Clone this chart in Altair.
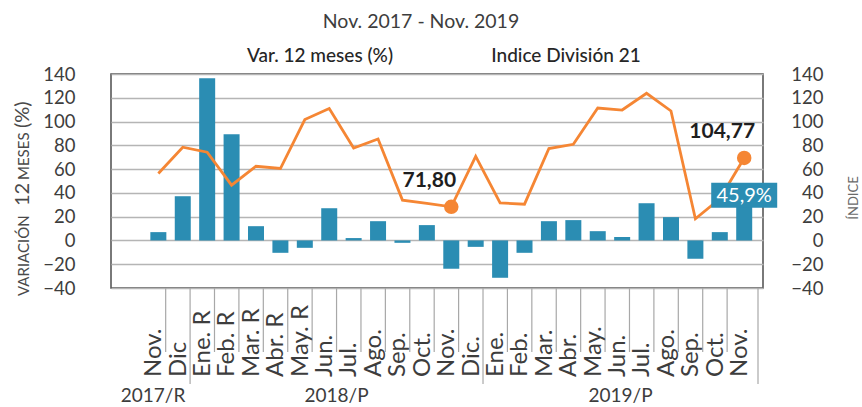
import altair as alt
import pandas as pd

# ---------------- data ----------------
months = ["Nov.", "Dic", "Ene. R", "Feb. R", "Mar. R", "Abr. R", "May. R", "Jun.", "Jul.",
          "Ago.", "Sep.", "Oct.", "Nov.", "Dic.", "Ene.", "Feb.", "Mar.", "Abr.", "May.",
          "Jun.", "Jul.", "Ago.", "Sep.", "Oct.", "Nov."]
years = ["2017/R"] * 2 + ["2018/P"] * 12 + ["2019/P"] * 11
var12 = [7.0, 37.2, 136.4, 89.3, 12.0, -10.4, -6.2, 27.1, 2.0, 16.2, -2.0, 12.9, -23.8,
         -5.4, -31.4, -10.4, 16.2, 17.1, 7.8, 2.8, 31.3, 19.6, -15.4, 7.0, 45.9]
indice = [56.3, 78.4, 74.2, 46.5, 62.4, 60.5, 101.7, 110.9, 77.8, 85.4, 33.9, 31.1, 28.3,
          70.8, 31.6, 30.5, 77.3, 80.9, 111.4, 109.7, 123.8, 108.9, 18.2, 35.0, 69.4]
indice_label_at = [12, 24]
indice_labels = ["71,80", "104,77"]
var_label_at = [24]
var_labels = ["45,9%"]
y_ticks = [-40, -20, 0, 20, 40, 60, 80, 100, 120, 140]

title_text = "Nov. 2017 - Nov. 2019"
legend_var = "Var. 12 meses (%)"
legend_idx = "Indice División 21"
ytitle_parts = ["VARIACIÓN", "12", "MESES", "(%)"]
ytitle_right = "ÍNDICE"

# ---------------- styling ----------------
BAR = "#2b8db3"
ORANGE = "#f58634"
TXT = "#3d3d3d"
FONT = "Lato"
W, H = 652, 214
X_DOMAIN = [-1.735, 24.565]
TICK_SHIFT = 0.3
LABEL_SHIFT = -0.17

n = len(months)
ilab = [""] * n
for i, t in zip(indice_label_at, indice_labels):
    ilab[i] = t
vlab = [""] * n
for i, t in zip(var_label_at, var_labels):
    vlab[i] = t

df = pd.DataFrame({"idx": list(range(n)), "mes": months, "anio": years,
                   "var": var12, "indice": indice, "ilab": ilab, "vlab": vlab})

# separators between categories
sep_rows = []
for i in range(n - 1):
    sep_rows.append({"pos": i + TICK_SHIFT, "long": years[i] != years[i + 1]})
sep_rows.append({"pos": X_DOMAIN[1], "long": True})
seps = pd.DataFrame(sep_rows)

# year group label positions
yr_rows = []
start = X_DOMAIN[0]
for y in dict.fromkeys(years):
    last = max(i for i, v in enumerate(years) if v == y)
    end = X_DOMAIN[1] if last == n - 1 else last + TICK_SHIFT
    yr_rows.append({"anio": y, "pos": (start + end) / 2})
    start = end
yrs = pd.DataFrame(yr_rows)

xs = alt.Scale(domain=X_DOMAIN, nice=False, zero=False)
ys = alt.Scale(domain=[-40, 140], nice=False, zero=False)

base = alt.Chart(df).encode(x=alt.X("idx:Q", scale=xs, axis=None))

bars = base.mark_bar(size=16, color=BAR).encode(
    y=alt.Y("var:Q", scale=ys, axis=alt.Axis(
        orient="left", values=y_ticks, grid=True, gridColor="#b5b5b5", gridWidth=1.5,
        domain=False, ticks=False, tickSize=0, labelPadding=36, labelFontSize=18.5,
        labelColor=TXT, labelFont=FONT, title=None)))

line = base.mark_line(color=ORANGE, strokeWidth=2.8).encode(
    y=alt.Y("indice:Q", scale=ys, axis=alt.Axis(
        orient="right", values=y_ticks, grid=False, domain=False, ticks=False,
        tickSize=0, labelAlign="right", labelPadding=60, labelFontSize=18.5,
        labelColor=TXT, labelFont=FONT, title=None)))

pts = base.transform_filter(alt.datum.ilab != "").mark_circle(
    size=210, color=ORANGE, opacity=1).encode(
    y=alt.Y("indice:Q", scale=ys, axis=None))

pt_text = base.transform_filter(alt.datum.ilab != "").mark_text(
    fontSize=21, fontWeight="bold", color="#1e1e1e", font=FONT, dx=-22, dy=-20,
    align="center", baseline="alphabetic").encode(
    y=alt.Y("indice:Q", scale=ys, axis=None), text="ilab:N")

box = base.transform_filter(alt.datum.vlab != "").mark_rect(
    color=BAR, xOffset=-33, x2Offset=33, yOffset=-3, y2Offset=22).encode(
    x2="idx:Q", y=alt.Y("var:Q", scale=ys, axis=None), y2="var:Q")

box_text = base.transform_filter(alt.datum.vlab != "").mark_text(
    fontSize=20, color="white", font=FONT, dy=10, align="center",
    baseline="middle").encode(
    y=alt.Y("var:Q", scale=ys, axis=None), text="vlab:N")

rule_short = alt.Chart(seps).transform_filter("!datum.long").mark_rule(
    color="#a8a8a8", strokeWidth=1.2).encode(
    x=alt.X("pos:Q", scale=xs, axis=None), y=alt.value(H), y2=alt.value(H + 64))
rule_long = alt.Chart(seps).transform_filter("datum.long").mark_rule(
    color="#a8a8a8", strokeWidth=1.2).encode(
    x=alt.X("pos:Q", scale=xs, axis=None), y=alt.value(H), y2=alt.value(H + 96))

month_text = base.transform_calculate(lx=f"datum.idx + ({LABEL_SHIFT})").mark_text(
    angle=270, align="left", baseline="middle", fontSize=24, color=TXT, font=FONT).encode(
    x=alt.X("lx:Q", scale=xs, axis=None), y=alt.value(H + 89), text="mes:N")

year_text = alt.Chart(yrs).mark_text(
    fontSize=19, color=TXT, font=FONT, align="center", baseline="alphabetic").encode(
    x=alt.X("pos:Q", scale=xs, axis=None), y=alt.value(H + 114), text="anio:N")

one = pd.DataFrame({"k": [0]})


def label(text, x, y, **kw):
    opts = dict(font=FONT, color=TXT, align="center", baseline="alphabetic")
    opts.update(kw)
    return alt.Chart(one).mark_text(text=text, **opts).encode(
        x=alt.value(x), y=alt.value(y))


title = label(title_text, 310, -46, fontSize=19.5)
leg1 = label(legend_var, 209, -12, fontSize=19, fontWeight=500, color="#262626")
leg2 = label(legend_idx, 455, -12, fontSize=19, fontWeight=500, color="#262626")

yt_sizes = [15, 20, 15, 20]
yt_starts = [222, 132, 106, 54]
yt = [label(t, -82, s, fontSize=fs, angle=270, align="left", color="#4a4a4a")
      for t, s, fs in zip(ytitle_parts, yt_starts, yt_sizes)]
yt_r = label(ytitle_right, 747, 124, fontSize=13, angle=270, color="#6a6a6a")

chart = alt.layer(
    bars, line, pts, pt_text, box, box_text, rule_short, rule_long,
    month_text, year_text, title, leg1, leg2, *yt, yt_r
).resolve_scale(y="independent").properties(
    width=W, height=H,
    autosize=alt.AutoSizeParams(type="none"),
    padding={"left": 111, "top": 74, "right": 99, "bottom": 119},
    background="white",
).configure(font=FONT).configure_view(stroke="#4d4d4d", strokeWidth=1.5)

chart.save("out.html", embed_options={"renderer": "svg", "actions": False})
